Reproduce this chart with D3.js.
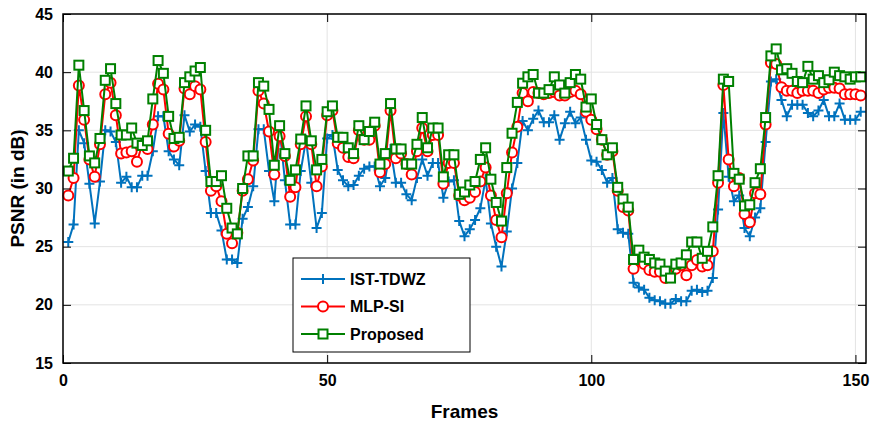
<!DOCTYPE html>
<html>
<head>
<meta charset="utf-8">
<script src="https://cdn.jsdelivr.net/npm/d3@7"></script>
<style>
  body { margin: 0; background: #fff; }
  text { font-family: "Liberation Sans", Arial, sans-serif; font-weight: bold; }
</style>
</head>
<body>
<svg width="877" height="424"></svg>
<script>
const width = 877,
  height = 424

const yTicks = [15, 20, 25, 30, 35, 40, 45]
const xTicks = [0, 50, 100, 150]
const seriesNames = ["IST-TDWZ", "MLP-SI", "Proposed"]

const istTdwz = [
  25.4, 26.9, 35.0, 33.9, 30.4, 27.0, 30.6, 35.0, 34.9, 34.0,
  30.5, 31.0, 30.1, 30.1, 31.1, 31.1, 33.2, 36.2, 36.2, 33.2,
  32.5, 32.0, 36.3, 34.9, 35.5, 35.3, 31.5, 27.9, 27.9, 26.4,
  23.9, 23.9, 23.6, 27.4, 28.4, 30.2, 35.1, 35.1, 31.5, 28.9,
  35.1, 30.7, 26.9, 26.9, 31.5, 34.2, 30.5, 26.6, 27.9, 34.3,
  34.6, 31.6, 30.7, 30.2, 30.3, 31.1, 31.7, 31.9, 31.9, 30.2,
  30.9, 33.4, 30.5, 30.5, 29.5, 29.0, 30.9, 32.5, 31.1, 32.2,
  32.2, 29.2, 30.6, 30.7, 27.2, 25.9, 26.5, 27.3, 28.3, 30.8,
  27.0, 25.0, 23.3, 26.3, 30.0, 32.2, 35.8, 35.0, 36.0, 36.7,
  35.7, 35.7, 36.3, 34.2, 35.6, 36.6, 35.6, 36.1, 34.2, 32.4,
  32.3, 31.6, 30.5, 30.9, 26.5, 26.2, 26.1, 21.9, 21.5, 21.3,
  20.6, 20.4, 20.3, 20.1, 20.1, 20.5, 20.3, 20.3, 21.2, 21.3,
  21.1, 21.2, 22.3, 28.2, 36.5, 31.0, 28.9, 29.4, 26.6, 25.9,
  27.5, 28.3, 34.0, 39.2, 39.4, 37.6, 36.2, 37.2, 37.2, 37.2,
  36.5, 36.2, 36.7, 37.6, 36.2, 36.2, 37.3, 35.9, 35.9, 35.9, 36.6
]

const mlpSi = [
  29.4, 30.9, 38.85, 35.9, 32.5, 31.0, 33.8, 38.1, 39.1, 36.3,
  33.0, 33.1, 33.2, 32.3, 33.8, 33.4, 35.5, 39.0, 38.5, 34.7,
  33.6, 34.1, 38.6, 38.1, 38.8, 38.5, 34.0, 29.8, 30.2, 28.9,
  26.1, 25.3, 26.2, 29.8, 30.8, 32.4, 38.4, 37.3, 34.9, 31.2,
  34.5, 32.8, 29.3, 30.1, 33.8, 36.2, 33.8, 30.2, 31.9, 36.3,
  36.7, 33.9, 33.5, 32.7, 32.6, 35.0, 34.2, 34.2, 35.4, 31.4,
  32.1, 36.7, 32.6, 33.0, 32.1, 31.2, 33.2, 35.2, 33.2, 34.6,
  34.6, 30.4, 32.2, 32.2, 29.4, 29.0, 29.2, 29.7, 30.6, 31.8,
  29.4, 27.3, 25.8, 29.6, 33.1, 35.3, 38.2, 37.5, 38.3, 38.2,
  38.1, 38.2, 38.3, 38.0, 38.0, 38.3, 38.4, 38.1, 36.6, 35.9,
  35.1, 34.2, 32.9, 33.2, 29.8, 28.4, 28.1, 23.1, 23.85, 23.5,
  23.0, 22.85, 22.85, 22.3, 22.7, 23.1, 23.4, 22.55, 23.4, 23.85,
  23.3, 23.4, 24.6, 30.5, 38.9, 32.5, 30.2, 30.9, 27.8, 27.1,
  29.6, 29.5, 35.5, 40.8, 40.7, 38.7, 38.4, 38.4, 38.2, 38.4,
  38.4, 38.4, 38.2, 38.5, 38.65, 38.65, 38.6, 38.1, 38.1, 38.1, 38.0
]

const proposed = [
  31.5, 32.6, 40.6, 36.7, 32.8, 32.2, 34.3, 39.3, 40.3, 37.3,
  34.6, 34.6, 35.2, 33.9, 33.7, 34.1, 37.7, 41.0, 39.9, 36.2,
  34.3, 34.4, 39.1, 39.6, 40.1, 40.4, 35.0, 30.6, 30.6, 31.1,
  28.3, 26.6, 26.1, 30.0, 32.8, 32.8, 39.1, 38.8, 36.8, 32.0,
  35.4, 33.0, 30.7, 31.6, 34.25, 37.1, 34.1, 31.6, 32.5, 36.6,
  37.1, 34.4, 34.4, 33.5, 33.0, 35.4, 34.2, 34.9, 35.7, 32.1,
  33.0, 37.3, 33.4, 33.4, 32.1, 32.1, 33.8, 36.1, 33.5, 35.2,
  35.2, 31.0, 32.9, 32.9, 29.5, 29.7, 30.3, 30.6, 32.5, 33.5,
  30.8, 28.8, 27.2, 31.8, 34.75, 37.4, 39.05, 39.6, 39.8, 38.2,
  38.2, 38.5, 39.6, 38.9, 38.2, 39.1, 39.8, 39.4, 37.0, 37.7,
  35.5, 34.2, 32.9, 33.5, 30.1, 29.1, 28.4, 23.9, 24.7, 24.1,
  23.9, 23.6, 23.5, 22.9, 22.3, 23.5, 23.6, 24.3, 25.4, 25.4,
  24.0, 24.6, 26.7, 31.1, 39.4, 39.2, 31.3, 30.8, 28.5, 28.6,
  30.5, 31.7, 36.1, 41.4, 42.0, 40.2, 40.3, 39.9, 39.2, 39.1,
  40.5, 39.4, 39.7, 39.1, 39.35, 40.0, 39.7, 39.6, 39.4, 39.6, 39.6
]

const frames = d3.range(1, istTdwz.length + 1)

const margin = { left: 63, right: 11, top: 14, bottom: 61 }
const x = d3.scaleLinear().domain([0, 152]).range([margin.left, width - margin.right])
const y = d3.scaleLinear().domain([15, 45]).range([height - margin.bottom, margin.top])

const svg = d3.select("svg")

// grid
const grid = svg.append("g").attr("stroke", "#e3e3e3").attr("stroke-width", 1)
grid.selectAll(".gy").data(yTicks).join("line")
  .attr("x1", x(0)).attr("x2", x(152))
  .attr("y1", d => y(d)).attr("y2", d => y(d))
grid.selectAll(".gx").data(xTicks).join("line")
  .attr("y1", y(15)).attr("y2", y(45))
  .attr("x1", d => x(d)).attr("x2", d => x(d))

const series = [
  { name: seriesNames[0], values: istTdwz, color: "#0072BD", marker: "plus" },
  { name: seriesNames[1], values: mlpSi, color: "#ff0000", marker: "circle" },
  { name: seriesNames[2], values: proposed, color: "#008000", marker: "square" }
]

const line = d3.line().x((d, i) => x(frames[i])).y(d => y(d))

const drawMarker = (sel, type, color) => {
  if (type === "plus") {
    sel.append("path").attr("d", "M-5,0H5M0,-5V5")
      .attr("stroke", color).attr("stroke-width", 2).attr("fill", "none")
  } else if (type === "circle") {
    sel.append("circle").attr("r", 5)
      .attr("stroke", color).attr("stroke-width", 2).attr("fill", "#fff")
  } else {
    sel.append("rect").attr("x", -4.5).attr("y", -4.5).attr("width", 9).attr("height", 9)
      .attr("stroke", color).attr("stroke-width", 2).attr("fill", "#fff")
  }
}

const plot = svg.append("g")
series.forEach(s => {
  const g = plot.append("g")
  g.append("path").datum(s.values)
    .attr("d", line)
    .attr("fill", "none").attr("stroke", s.color).attr("stroke-width", 2)
  const m = g.selectAll("g").data(s.values).join("g")
    .attr("transform", (d, i) => `translate(${x(frames[i])},${y(d)})`)
  drawMarker(m, s.marker, s.color)
})

// axes (box with inward ticks)
const axisStyle = g => {
  g.select(".domain").remove()
  g.selectAll(".tick line").attr("stroke", "#000").attr("stroke-width", 1)
  g.selectAll(".tick text").attr("fill", "#000").style("font-size", "16px").style("font-weight", "bold")
}
svg.append("g").attr("transform", `translate(0,${y(15)})`)
  .call(d3.axisBottom(x).tickValues(xTicks).tickSizeInner(-8).tickPadding(12))
  .call(axisStyle)
svg.append("g").attr("transform", `translate(0,${y(45)})`)
  .call(d3.axisTop(x).tickValues(xTicks).tickSizeInner(-8).tickFormat(""))
  .call(axisStyle)
svg.append("g").attr("transform", `translate(${x(0)},0)`)
  .call(d3.axisLeft(y).tickValues(yTicks).tickSizeInner(-8).tickPadding(10))
  .call(axisStyle)
svg.append("g").attr("transform", `translate(${x(152)},0)`)
  .call(d3.axisRight(y).tickValues(yTicks).tickSizeInner(-8).tickFormat(""))
  .call(axisStyle)
svg.append("rect")
  .attr("x", x(0)).attr("y", y(45))
  .attr("width", x(152) - x(0)).attr("height", y(15) - y(45))
  .attr("fill", "none").attr("stroke", "#000").attr("stroke-width", 1.5)

// axis labels
svg.append("text")
  .attr("x", (x(0) + x(152)) / 2).attr("y", 418)
  .attr("text-anchor", "middle").style("font-size", "19px")
  .text("Frames")
svg.append("text")
  .attr("transform", `translate(24,${(y(15) + y(45)) / 2}) rotate(-90)`)
  .attr("text-anchor", "middle").style("font-size", "19px")
  .text("PSNR (in dB)")

// legend
const lg = svg.append("g").attr("transform", "translate(293,258)")
lg.append("rect").attr("width", 177).attr("height", 94)
  .attr("fill", "#fff").attr("stroke", "#000").attr("stroke-width", 1)
series.forEach((s, i) => {
  const row = lg.append("g").attr("transform", `translate(0,${21 + i * 27.5})`)
  row.append("line").attr("x1", 8).attr("x2", 52)
    .attr("stroke", s.color).attr("stroke-width", 2)
  drawMarker(row.append("g").attr("transform", "translate(30,0)"), s.marker, s.color)
  row.append("text").attr("x", 57).attr("dy", "0.35em")
    .style("font-size", "16px").text(s.name)
})
</script>
</body>
</html>
